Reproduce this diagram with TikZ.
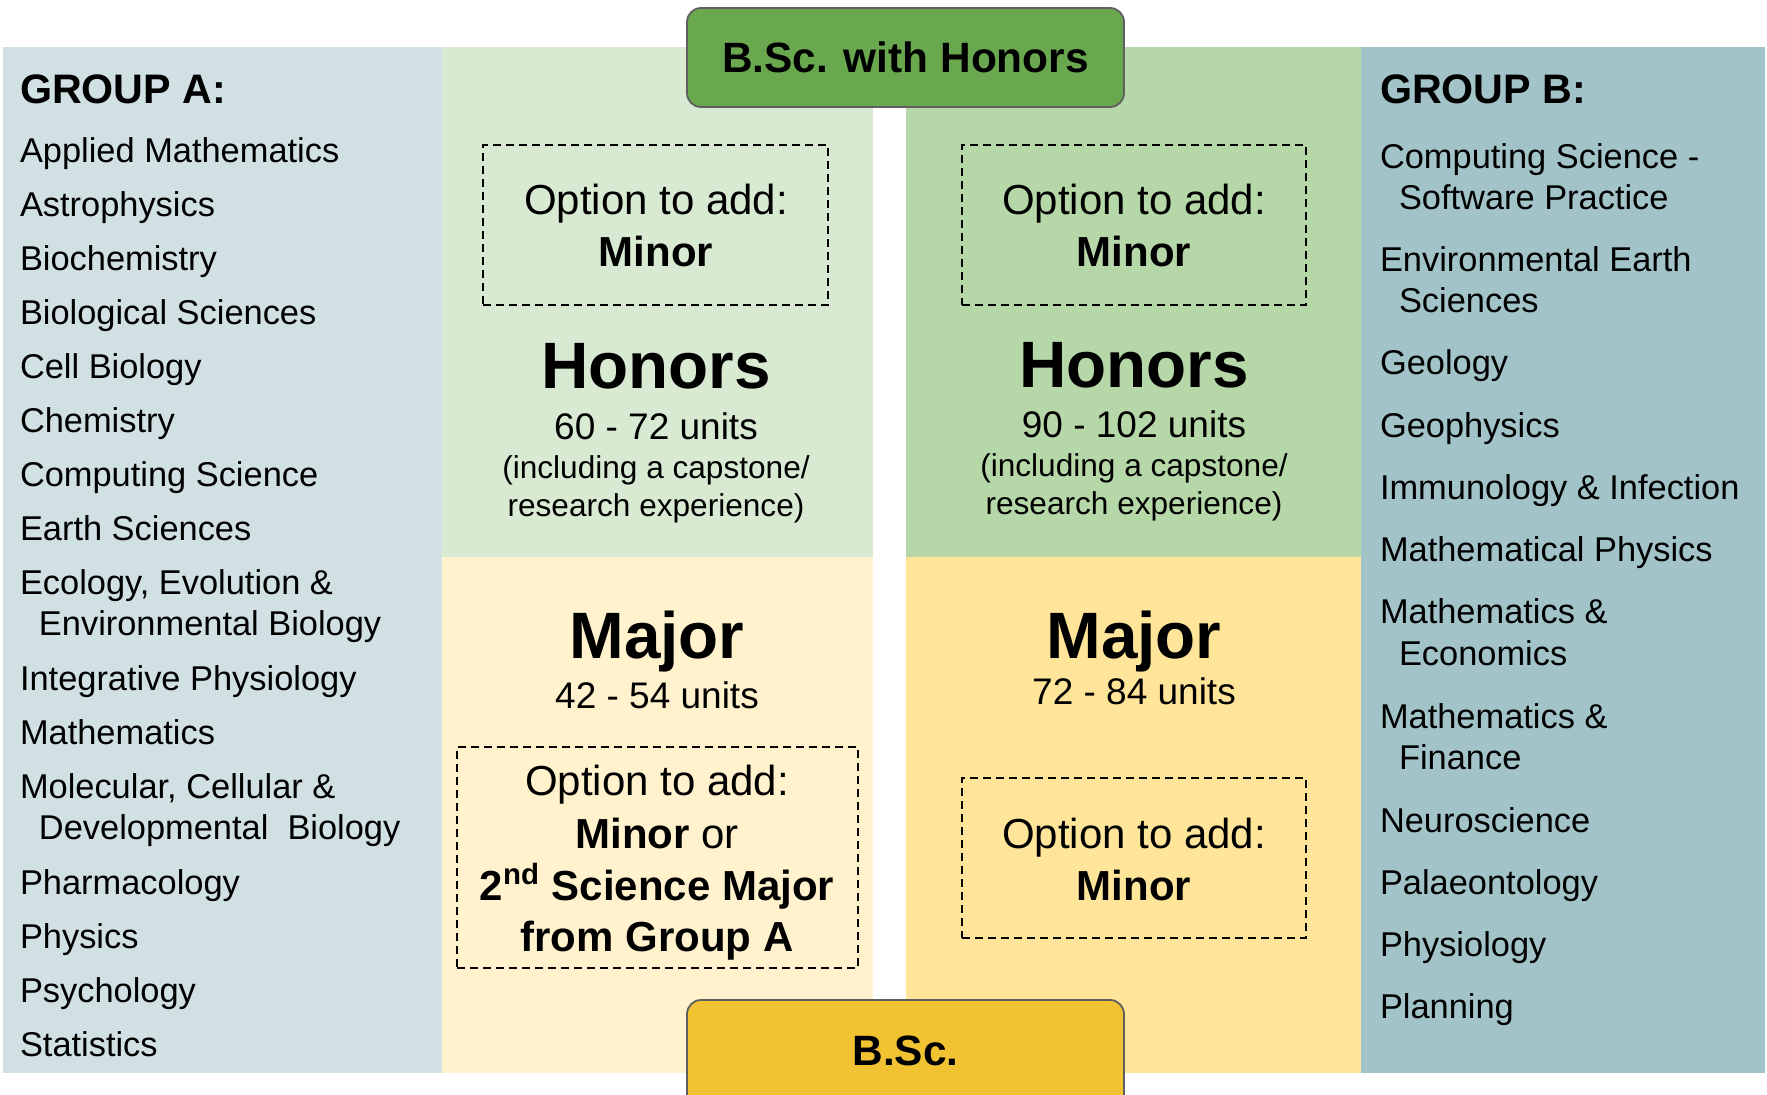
\documentclass[tikz,border=0pt]{standalone}
\usepackage{fontspec}
\setmainfont{Liberation Sans}
\usetikzlibrary{fit}
\definecolor{grpA}{HTML}{D0E0E3}
\definecolor{grpB}{HTML}{A2C4C9}
\definecolor{honL}{HTML}{D9EAD3}
\definecolor{honR}{HTML}{B6D7A8}
\definecolor{majL}{HTML}{FFF2CC}
\definecolor{majR}{HTML}{FFE599}
\definecolor{banG}{HTML}{6AA84F}
\definecolor{banY}{HTML}{F1C232}
\definecolor{banLine}{HTML}{5F5F5F}
\newcommand\fsz[1]{\fontsize{#1}{#1}\selectfont}
\begin{document}
\begin{tikzpicture}[x=0.5pt,y=-0.5pt,
  item/.style={inner sep=0pt, outer sep=0pt, anchor=base west, font=\fsz{17.2}},
  grp/.style={inner sep=0pt, outer sep=0pt, anchor=base west, font=\fsz{20.6}\bfseries},
  opt/.style={inner sep=0pt, outer sep=0pt, anchor=base, font=\fsz{21}},
  big/.style={inner sep=0pt, outer sep=0pt, anchor=base, font=\fsz{32.8}\bfseries},
  units/.style={inner sep=0pt, outer sep=0pt, anchor=base, font=\fsz{18.5}},
  note/.style={inner sep=0pt, outer sep=0pt, anchor=base, font=\fsz{15.8}},
  dbox/.style={draw=black, dash pattern=on 4pt off 2.5pt, line width=0.8pt, inner sep=0pt, outer sep=0pt},
  banner/.style={draw=banLine, line width=0.9pt, rounded corners=7pt, inner sep=0pt, outer sep=0pt},
  bantext/.style={inner sep=0pt, outer sep=0pt, anchor=base, font=\fsz{21.2}\bfseries}]
\useasboundingbox (0,0) rectangle (1767,1094);
\fill[white] (0,0) rectangle (1767,1094);
% panels
\fill[grpA] (3,47) rectangle (442,1073);
\fill[honL] (442,47) rectangle (873,557);
\fill[majL] (442,557) rectangle (873,1073);
\fill[honR] (906,47) rectangle (1361,557);
\fill[majR] (906,557) rectangle (1361,1073);
\fill[grpB] (1361,47) rectangle (1765,1073);
% banners
\node[banner, fill=banG, fit={(687,8) (1124,107)}] (honbanner) {};
\node[bantext] (hontext) at (905.5,72) {B.Sc. with Honors};
\node[banner, fill=banY, fit={(687,1000) (1124,1125)}] (bscbanner) {};
\node[bantext] (bsctext) at (905.5,1065) {B.Sc.};
% dashed option boxes
\node[dbox, fit={(483,145) (828,305)}] (boxHL) {};
\node[dbox, fit={(962,145) (1306,305)}] (boxHR) {};
\node[dbox, fit={(457,747) (858,968)}] (boxML) {};
\node[dbox, fit={(962,778) (1306,938)}] (boxMR) {};
% left honors
\node[opt] (hl1) at (656,214) {Option to add:};
\node[opt] (hl2) at (656,266) {\bfseries Minor};
\node[big] (hl3) at (656,388) {Honors};
\node[units] (hl4) at (656,439) {60 - 72 units};
\node[note] (hl5) at (656,478) {(including a capstone/};
\node[note] (hl6) at (656,516) {research experience)};
% right honors
\node[opt] (hr1) at (1134,214) {Option to add:};
\node[opt] (hr2) at (1134,266) {\bfseries Minor};
\node[big] (hr3) at (1134,387) {Honors};
\node[units] (hr4) at (1134,437) {90 - 102 units};
\node[note] (hr5) at (1134,476) {(including a capstone/};
\node[note] (hr6) at (1134,514) {research experience)};
% left major
\node[big] (ml1) at (657,658) {Major};
\node[units] (ml2) at (657,708) {42 - 54 units};
\node[opt] (ml3) at (657,795) {Option to add:};
\node[opt] (ml4) at (657,848) {\bfseries Minor\mdseries{} or};
\node[opt] (ml5) at (657,900) {\bfseries 2\textsuperscript{nd} Science Major};
\node[opt] (ml6) at (657,951) {\bfseries from Group A};
% right major
\node[big] (mr1) at (1134,658) {Major};
\node[units] (mr2) at (1134,704) {72 - 84 units};
\node[opt] (mr3) at (1134,848) {Option to add:};
\node[opt] (mr4) at (1134,900) {\bfseries Minor};
% group A
\node[grp] (ga) at (20,103) {GROUP A:};
\node[item] (a1) at (20,162) {Applied Mathematics};
\node[item] (a2) at (20,216) {Astrophysics};
\node[item] (a3) at (20,270) {Biochemistry};
\node[item] (a4) at (20,324) {Biological Sciences};
\node[item] (a5) at (20,378) {Cell Biology};
\node[item] (a6) at (20,432) {Chemistry};
\node[item] (a7) at (20,486) {Computing Science};
\node[item] (a8) at (20,540) {Earth Sciences};
\node[item] (a9) at (20,594) {Ecology, Evolution \&};
\node[item] (a9b) at (39,635) {Environmental Biology};
\node[item] (a10) at (20,690) {Integrative Physiology};
\node[item] (a11) at (20,744) {Mathematics};
\node[item] (a12) at (20,798) {Molecular, Cellular \&};
\node[item] (a12b) at (39,839) {Developmental\ \ Biology};
\node[item] (a13) at (20,894) {Pharmacology};
\node[item] (a14) at (20,948) {Physics};
\node[item] (a15) at (20,1002) {Psychology};
\node[item] (a16) at (20,1056) {Statistics};
% group B
\node[grp] (gb) at (1380,103) {GROUP B:};
\node[item] (b1) at (1380,168) {Computing Science -};
\node[item] (b1b) at (1399,209) {Software Practice};
\node[item] (b2) at (1380,271) {Environmental Earth};
\node[item] (b2b) at (1399,312) {Sciences};
\node[item] (b3) at (1380,374) {Geology};
\node[item] (b4) at (1380,437) {Geophysics};
\node[item] (b5) at (1380,499) {Immunology \& Infection};
\node[item] (b6) at (1380,561) {Mathematical Physics};
\node[item] (b7) at (1380,623) {Mathematics \&};
\node[item] (b7b) at (1399,665) {Economics};
\node[item] (b8) at (1380,728) {Mathematics \&};
\node[item] (b8b) at (1399,769) {Finance};
\node[item] (b9) at (1380,832) {Neuroscience};
\node[item] (b10) at (1380,894) {Palaeontology};
\node[item] (b11) at (1380,956) {Physiology};
\node[item] (b12) at (1380,1018) {Planning};
\end{tikzpicture}
\end{document}
